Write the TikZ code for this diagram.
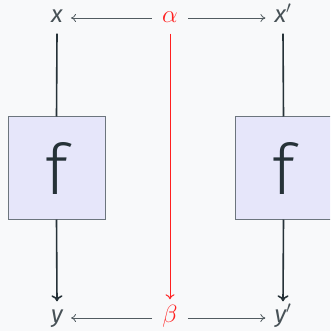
\documentclass[tikz,border=0pt]{standalone}
\usepackage{fontspec}
\setmainfont{Fira Sans}
\newfontfamily\lightf{Fira Sans Light}
\usetikzlibrary{arrows.meta}
\definecolor{bg}{HTML}{F8F9FA}
\definecolor{ink}{HTML}{263238}
\definecolor{boxfill}{HTML}{E6E6FA}
\definecolor{boxline}{HTML}{6C757D}
\definecolor{redl}{HTML}{FF2020}
\begin{document}
\begin{tikzpicture}[x=1pt,y=-1pt,
  lab/.style={font=\fontsize{24}{24}\selectfont\itshape, text=ink!85, inner sep=0pt, text height=13pt, text depth=4pt},
  fbox/.style={draw=boxline, fill=boxfill, line width=1pt, minimum width=97pt, minimum height=102pt, inner sep=0pt, font=\fontsize{70}{70}\selectfont\lightf, text=ink},
  wire/.style={draw=ink, line width=1.6pt},
  hwire/.style={draw=ink!80, line width=0.8pt, -{To[length=5pt,width=8pt]}},
  varrow/.style={-{To[length=6pt,width=11pt,line width=1.6pt]}}
]
\clip (0,0) rectangle (330,331);
\fill[bg] (0,0) rectangle (330,331);
\useasboundingbox (0,0) rectangle (330,331);
\node[lab] (x) at (57,18) {x};
\node[lab] (xp) at (283,18) {x$'$};
\node[lab, text=redl] (a) at (170,18) {$\alpha$};
\node[lab] (y) at (57,318) {y};
\node[lab] (yp) at (283,318) {y$'$};
\node[lab, text=redl] (b) at (170,318) {$\beta$};
\node[fbox] (f1) at (56.5,168) {f};
\node[fbox] (f2) at (283.5,168) {f};
\draw[hwire] ([xshift=-10pt]a.west) -- ([xshift=8pt]x.east);
\draw[hwire] ([xshift=10pt]a.east) -- ([xshift=-9pt]xp.west);
\draw[hwire] ([xshift=-10pt]b.west) -- ([xshift=8pt]y.east);
\draw[hwire] ([xshift=10pt]b.east) -- ([xshift=-9pt]yp.west);
\draw[wire] ([yshift=-7pt]x.south) -- (f1.north);
\draw[wire, varrow] (f1.south) -- ([yshift=8pt]y.north);
\draw[wire] ([yshift=-7pt]xp.south) -- (f2.north);
\draw[wire, varrow] (f2.south) -- ([yshift=8pt]yp.north);
\draw[redl, line width=1pt, -{To[length=5pt,width=9pt]}] ([yshift=-7pt]a.south) -- ([yshift=10pt]b.north);
\end{tikzpicture}
\end{document}
